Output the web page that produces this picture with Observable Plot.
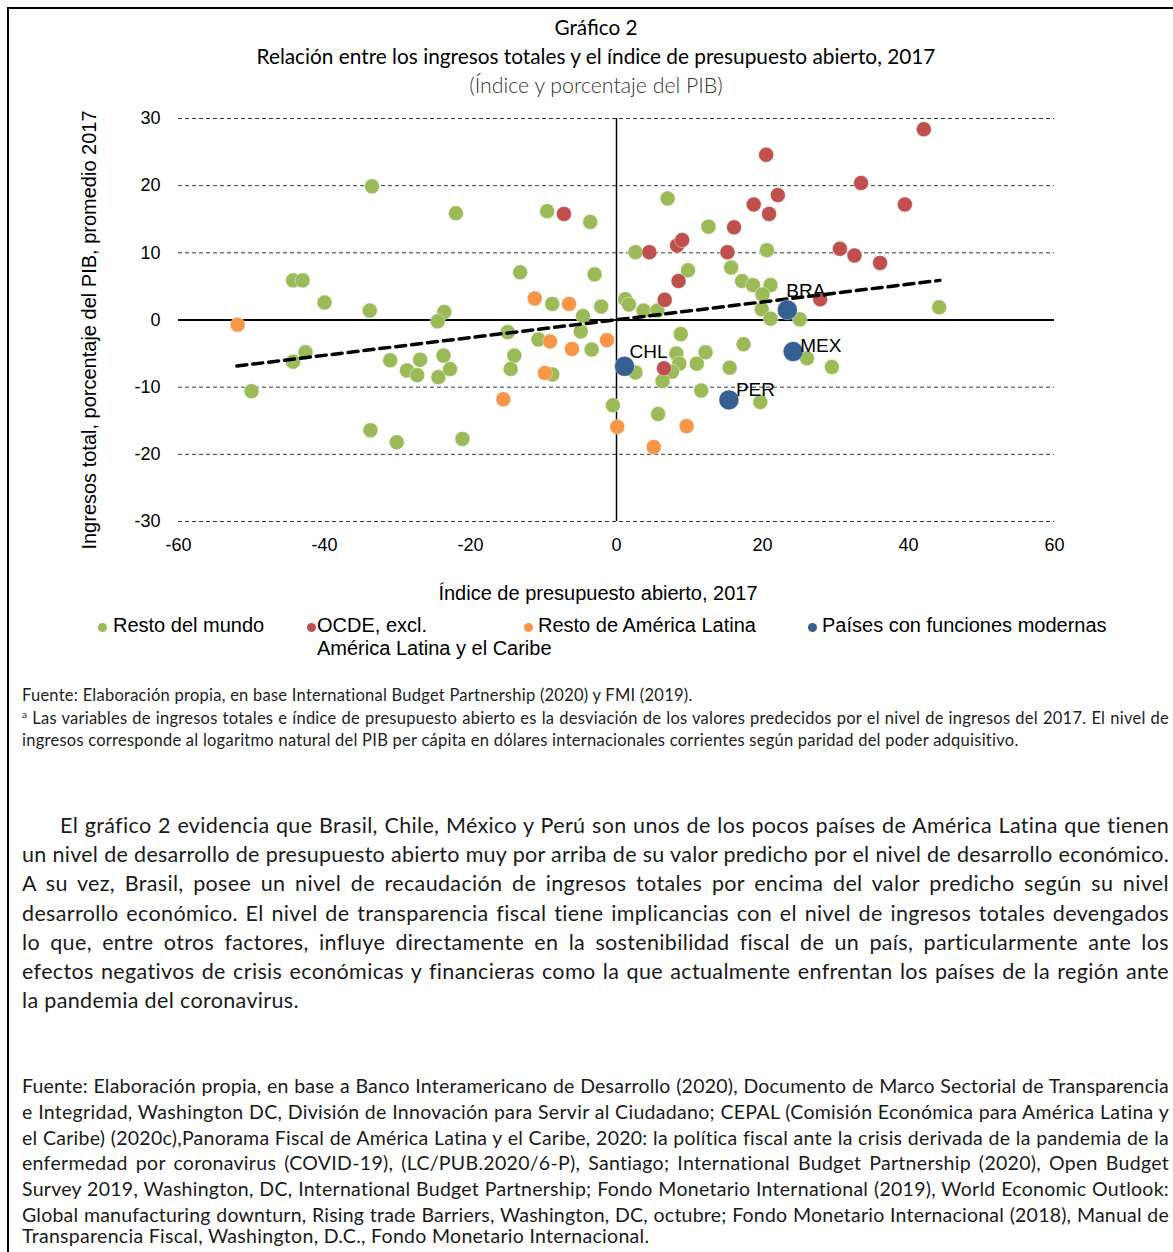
<!DOCTYPE html>
<html><head><meta charset="utf-8">
<script src="https://cdn.jsdelivr.net/npm/d3@7"></script>
<script src="https://cdn.jsdelivr.net/npm/@observablehq/plot@0.6"></script>
<style>
body{margin:0;background:#fff;}
#page{position:relative;width:1173px;height:1252px;overflow:hidden;background:#fff;}
#frame{position:absolute;left:7px;top:7px;width:1200px;height:1300px;border-left:2px solid #000;border-top:2px solid #000;}
.ctr{position:absolute;left:0;width:1192px;text-align:center;font-family:Lato,"Open Sans",sans-serif;white-space:nowrap;}
#chart{position:absolute;left:0;top:100px;}
.ax{position:absolute;font-family:"Liberation Sans",Arial,sans-serif;font-size:20px;color:#000;white-space:nowrap;}
.lg{position:absolute;font-family:"Liberation Sans",Arial,sans-serif;font-size:20px;color:#000;white-space:nowrap;line-height:23px;}
.mk{position:absolute;width:9px;height:9px;border-radius:50%;}
.blk{position:absolute;left:22px;width:1147px;font-family:Lato,"Open Sans",sans-serif;color:#1a1a1a;}
.blk div{white-space:nowrap;overflow:visible;}
.jj{text-align:justify;text-align-last:justify;}
</style></head>
<body><div id="page">
<div id="frame"></div>
<div class="ctr" style="top:15px;font-size:20.7px;line-height:24px;color:#000;">Gráfico 2</div>
<div class="ctr" style="top:44px;font-size:20.8px;line-height:24px;color:#000;">Relación entre los ingresos totales y el índice de presupuesto abierto, 2017</div>
<div class="ctr" style="top:73px;font-size:21.3px;line-height:24px;color:#333;font-weight:300;">(Índice y porcentaje del PIB)</div>
<div id="chart"></div>
<div class="ax" style="left:89px;top:330px;transform:translate(-50%,-50%) rotate(-90deg);">Ingresos total, porcentaje del PIB, promedio 2017</div>
<div class="ax" style="left:598px;top:593px;transform:translate(-50%,-50%);">Índice de presupuesto abierto, 2017</div>
<div id="legend"></div>
<div class="blk" style="top:684px;font-size:16.5px;line-height:22.5px;color:#222;letter-spacing:0.25px;">
<div>Fuente: Elaboración propia, en base International Budget Partnership (2020) y FMI (2019).</div>
<div class="j"><sup style="font-size:10px;line-height:0;">a</sup> Las variables de ingresos totales e índice de presupuesto abierto es la desviación de los valores predecidos por el nivel de ingresos del 2017. El nivel de</div>
<div>ingresos corresponde al logaritmo natural del PIB per cápita en dólares internacionales corrientes según paridad del poder adquisitivo.</div>
</div>
<div class="blk" style="top:811px;font-size:21.5px;line-height:29.2px;letter-spacing:0.35px;">
<div class="j" style="padding-left:38px;">El gráfico 2 evidencia que Brasil, Chile, México y Perú son unos de los pocos países de América Latina que tienen</div>
<div class="j">un nivel de desarrollo de presupuesto abierto muy por arriba de su valor predicho por el nivel de desarrollo económico.</div>
<div class="j">A su vez, Brasil, posee un nivel de recaudación de ingresos totales por encima del valor predicho según su nivel</div>
<div class="j">desarrollo económico. El nivel de transparencia fiscal tiene implicancias con el nivel de ingresos totales devengados</div>
<div class="j">lo que, entre otros factores, influye directamente en la sostenibilidad fiscal de un país, particularmente ante los</div>
<div class="j">efectos negativos de crisis económicas y financieras como la que actualmente enfrentan los países de la región ante</div>
<div>la pandemia del coronavirus.</div>
</div>
<div class="blk" style="top:1073px;font-size:19.5px;line-height:25.8px;letter-spacing:0.3px;">
<div class="j">Fuente: Elaboración propia, en base a Banco Interamericano de Desarrollo (2020), Documento de Marco Sectorial de Transparencia</div>
<div class="j">e Integridad, Washington DC, División de Innovación para Servir al Ciudadano; CEPAL (Comisión Económica para América Latina y</div>
<div class="j">el Caribe) (2020c),Panorama Fiscal de América Latina y el Caribe, 2020: la política fiscal ante la crisis derivada de la pandemia de la</div>
<div class="j">enfermedad por coronavirus (COVID-19), (LC/PUB.2020/6-P), Santiago; International Budget Partnership (2020), Open Budget</div>
<div class="j">Survey 2019, Washington, DC, International Budget Partnership; Fondo Monetario International (2019), World Economic Outlook:</div>
<div class="j">Global manufacturing downturn, Rising trade Barriers, Washington, DC, octubre; Fondo Monetario Internacional (2018), Manual de</div>
<div style="line-height:16px;padding-top:0px;">Transparencia Fiscal, Washington, D.C., Fondo Monetario Internacional.</div>
</div>
</div>
<script>
// ---- Data ----
const seriesNames = ["Resto del mundo", "OCDE, excl. América Latina y el Caribe", "Resto de América Latina", "Países con funciones modernas"];
const seriesColors = ["#9BBB59", "#C0504D", "#F79646", "#376092"];

const restoMundoX = [-50.0,-44.3,-43.0,-44.3,-42.6,-40.0,-33.5,-33.8,-33.7,-30.1,-31.0,-28.7,-27.3,-26.9,-24.4,-23.7,-22.8,-21.1,-22.0,-23.6,-24.5,-14.9,-14.0,-14.5,-13.2,-10.7,-9.5,-8.8,-8.8,-4.9,-4.6,-3.6,-3.0,-3.4,-2.1,-0.5,1.2,1.7,2.6,3.7,5.6,7.0,9.8,12.6,15.7,17.2,18.7,21.1,20.0,20.6,19.9,21.1,25.1,44.2,2.6,8.8,8.2,8.6,7.6,6.3,11.0,12.2,11.6,17.4,15.5,19.7,26.1,29.5,5.7];
const restoMundoY = [-10.6,5.9,5.9,-6.2,-4.8,2.6,19.9,1.4,-16.4,-18.2,-6.0,-7.5,-8.2,-5.9,-8.5,-5.3,-7.3,-17.7,15.9,1.2,-0.2,-1.8,-5.3,-7.3,7.1,-2.9,16.2,2.4,-8.1,-1.7,0.6,14.6,6.8,-4.4,2.0,-12.7,3.1,2.3,10.1,1.4,1.4,18.1,7.4,13.9,7.8,5.8,5.2,5.2,3.8,10.4,1.6,0.2,0.1,1.9,-7.8,-2.1,-5.0,-6.5,-7.7,-9.1,-6.5,-4.8,-10.5,-3.6,-7.1,-12.2,-5.7,-7.0,-14.0];

const ocdeX = [-7.2,42.1,20.5,33.5,39.5,18.8,22.1,20.9,16.1,4.5,8.3,9.0,15.2,30.6,32.6,36.1,8.5,6.6,27.9,6.5];
const ocdeY = [15.8,28.4,24.6,20.4,17.2,17.2,18.6,15.8,13.8,10.1,11.1,11.9,10.1,10.6,9.6,8.5,5.8,3.0,3.1,-7.2];

const restoALX = [-51.9,-11.2,-6.5,-15.5,-9.1,-9.8,-6.1,-1.3,0.1,9.6,5.1];
const restoALY = [-0.7,3.2,2.4,-11.8,-3.2,-7.9,-4.3,-3.0,-15.9,-15.8,-18.9];

const modernasNames = ["BRA","CHL","MEX","PER"];
const modernasX = [23.4,1.1,24.2,15.4];
const modernasY = [1.5,-6.9,-4.7,-11.9];

const trendX = [-52.0, 44.3];
const trendY = [-6.85, 5.9];

const xTicks = [-60,-40,-20,0,20,40,60];
const yTicks = [-30,-20,-10,0,10,20,30];
const gridY = [30,20,10,-10,-20,-30];

// ---- Build tables ----
const toRows = (xs, ys, names) => xs.map((x, i) => ({x, y: ys[i], name: names ? names[i] : null}));
const green = toRows(restoMundoX, restoMundoY);
const red = toRows(ocdeX, ocdeY);
const orange = toRows(restoALX, restoALY);
const blue = toRows(modernasX, modernasY, modernasNames);
const trend = toRows(trendX, trendY);

const lab = (n, dx, dy) => Plot.text(blue.filter(d => d.name === n), {x:"x", y:"y", text:"name", dx, dy, textAnchor:"start", fontSize:19, fill:"#000", fontFamily:"Liberation Sans, Arial, sans-serif"});

const chart = Plot.plot({
  width: 1173, height: 460,
  marginLeft: 178, marginRight: 119, marginTop: 18, marginBottom: 39,
  style: {fontFamily: "Liberation Sans, Arial, sans-serif", fontSize: "18px", color: "#000", background: "transparent"},
  x: {domain: [-60, 60], ticks: xTicks, tickSize: 0, tickPadding: 17, label: null, tickFormat: d => String(d)},
  y: {domain: [-30, 30], ticks: yTicks, tickSize: 0, tickPadding: 18, label: null, tickFormat: d => String(d)},
  marks: [
    Plot.ruleY(gridY, {stroke: "#3a3a3a", strokeWidth: 1, strokeDasharray: "4,3"}),
    Plot.ruleY([0], {stroke: "#000", strokeWidth: 2}),
    Plot.ruleX([0], {stroke: "#000", strokeWidth: 1.5}),
    Plot.dot(green, {x:"x", y:"y", r:7.5, fill: seriesColors[0], stroke:"#fff", strokeWidth:0.4}),
    Plot.dot(red, {x:"x", y:"y", r:7.5, fill: seriesColors[1], stroke:"#fff", strokeWidth:0.4}),
    Plot.dot(orange, {x:"x", y:"y", r:7.5, fill: seriesColors[2], stroke:"#fff", strokeWidth:0.4}),
    Plot.line(trend, {x:"x", y:"y", stroke:"#000", strokeWidth:3.5, strokeDasharray:"10,6"}),
    Plot.dot(blue, {x:"x", y:"y", r:10, fill: seriesColors[3], stroke:"#fff", strokeWidth:0.4}),
    lab("BRA", -1, -19),
    lab("CHL", 5, -14),
    lab("MEX", 7, -6),
    lab("PER", 7, -10)
  ]
});
document.getElementById("chart").appendChild(chart);

// ---- Legend ----
const legend = document.getElementById("legend");
const legPos = [{mx:102, tx:113}, {mx:311, tx:317}, {mx:528, tx:538}, {mx:812, tx:822}];
const legLabels = ["Resto del mundo", "OCDE, excl.<br>América Latina y el Caribe", "Resto de América Latina", "Países con funciones modernas"];
legPos.forEach((p, i) => {
  const m = document.createElement("div");
  m.className = "mk";
  m.style.left = (p.mx - 4.5) + "px";
  m.style.top = (627 - 4.5) + "px";
  m.style.background = seriesColors[i];
  legend.appendChild(m);
  const t = document.createElement("div");
  t.className = "lg";
  t.style.left = p.tx + "px";
  t.style.top = (626 - 12) + "px";
  t.innerHTML = legLabels[i];
  legend.appendChild(t);
});

// ---- Fit justified text lines so none overflow ----
document.querySelectorAll(".j").forEach(div => {
  const span = document.createElement("span");
  span.innerHTML = div.innerHTML;
  div.innerHTML = "";
  div.appendChild(span);
  const cs = getComputedStyle(div);
  const target = div.clientWidth - parseFloat(cs.paddingLeft) - parseFloat(cs.paddingRight);
  const w = span.getBoundingClientRect().width;
  if (w > target - 3) {
    const n = span.textContent.length;
    const ls = parseFloat(cs.letterSpacing) || 0;
    div.style.letterSpacing = (ls - (w - target + 6) / n) + "px";
  }
  div.classList.add("jj");
});
</script>
</body></html>
